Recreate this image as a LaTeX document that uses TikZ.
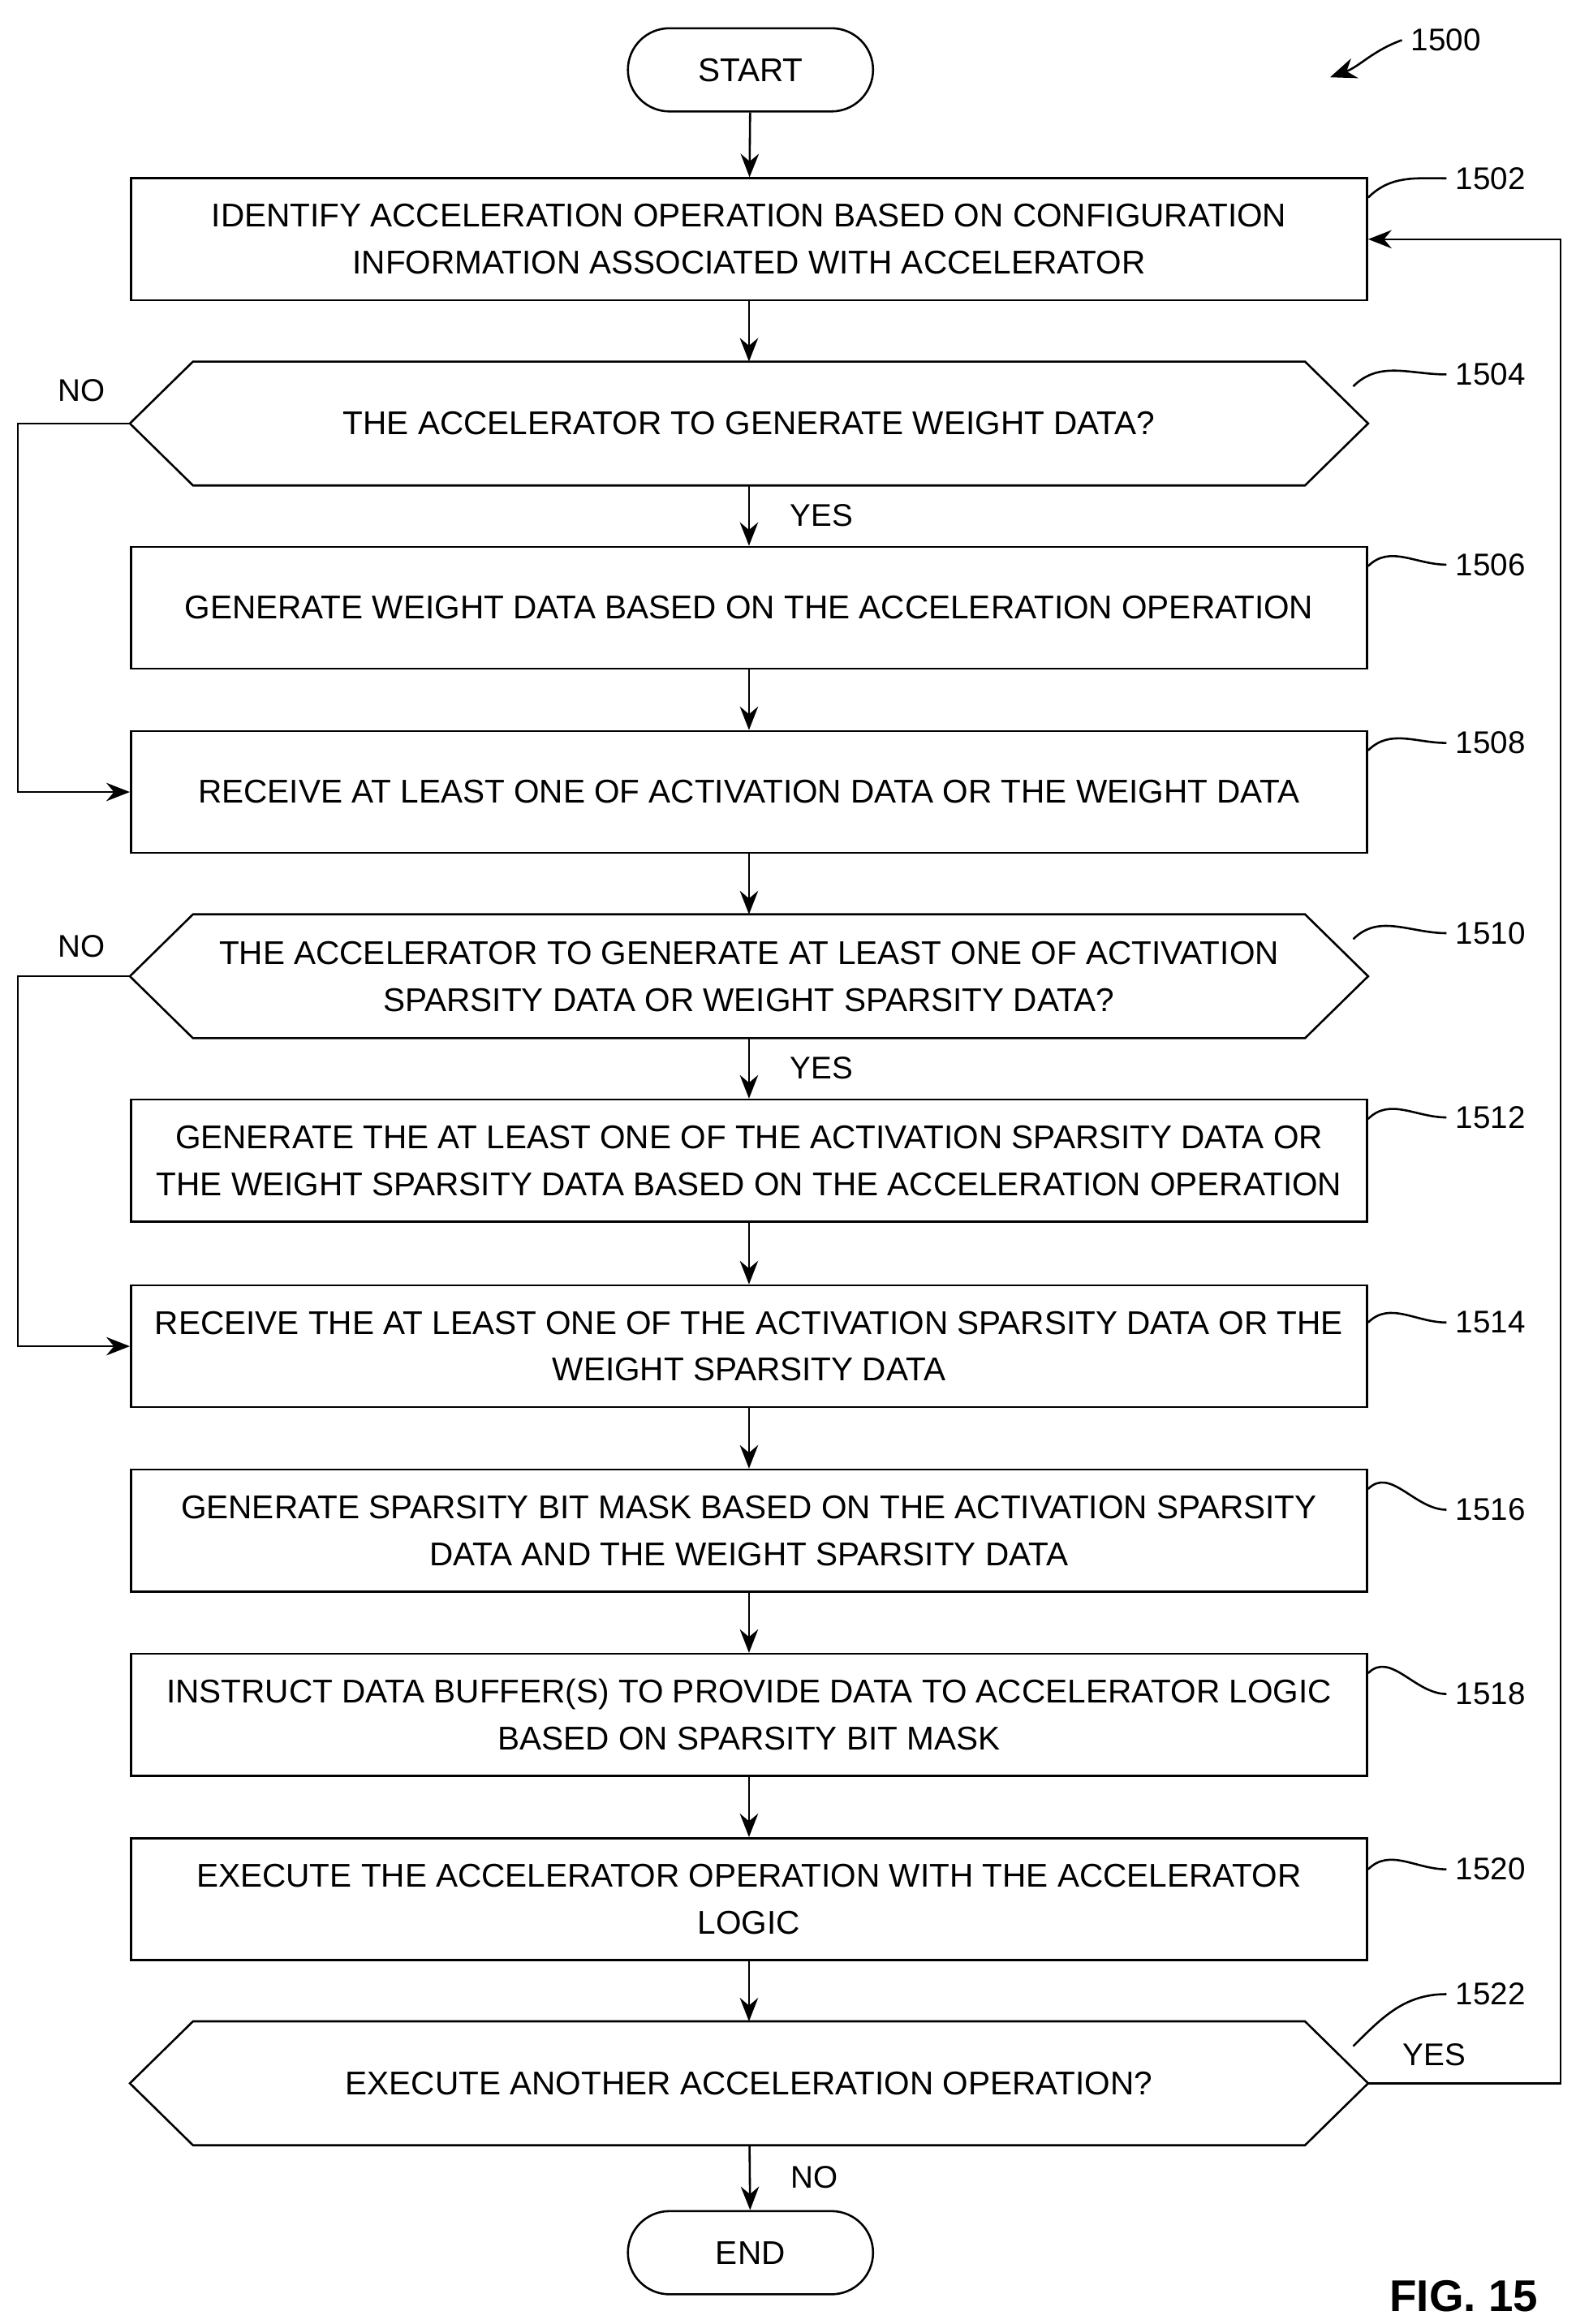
\documentclass[tikz,border=0pt]{standalone}
\usepackage{fontspec}
\setmainfont{Liberation Sans}
\usetikzlibrary{arrows.meta}

\tikzset{
  box/.style={draw,thick,minimum width=16.64cm,minimum height=1.64cm,align=center,inner sep=1pt,font=\fontsize{12.6}{18}\selectfont},
  dec/.style={box,draw=none},
  term/.style={draw,thick,rounded corners=0.56cm,minimum width=3.3cm,minimum height=1.12cm,font=\fontsize{12.6}{15}\selectfont},
  flow/.style={thick,-{Stealth[length=9pt,width=7pt]}},
  lead/.style={thick},
  lbl/.style={font=\fontsize{12}{14}\selectfont}
}
\newcommand{\hexline}[1]{\draw[thick] (#1.west) -- ([xshift=0.85cm]#1.north west) -- ([xshift=-0.85cm]#1.north east) -- (#1.east) -- ([xshift=-0.85cm]#1.south east) -- ([xshift=0.85cm]#1.south west) -- cycle;}

\begin{document}
\begin{tikzpicture}[x=0.02cm,y=-0.02cm]
\useasboundingbox (0,0) rectangle (1060,1564);

\path (505,47) node[term] (start) {START};
\path (504,161) node[box] (b1502) {IDENTIFY ACCELERATION OPERATION BASED ON CONFIGURATION\\INFORMATION ASSOCIATED WITH ACCELERATOR};
\path (504,285) node[dec] (d1504) {THE ACCELERATOR TO GENERATE WEIGHT DATA?};
\path (504,409) node[box] (b1506) {GENERATE WEIGHT DATA BASED ON THE ACCELERATION OPERATION};
\path (504,533) node[box] (b1508) {RECEIVE AT LEAST ONE OF ACTIVATION DATA OR THE WEIGHT DATA};
\path (504,657) node[dec] (d1510) {THE ACCELERATOR TO GENERATE AT LEAST ONE OF ACTIVATION\\SPARSITY DATA OR WEIGHT SPARSITY DATA?};
\path (504,781) node[box] (b1512) {GENERATE THE AT LEAST ONE OF THE ACTIVATION SPARSITY DATA OR\\THE WEIGHT SPARSITY DATA BASED ON THE ACCELERATION OPERATION};
\path (504,906) node[box] (b1514) {RECEIVE THE AT LEAST ONE OF THE ACTIVATION SPARSITY DATA OR THE\\WEIGHT SPARSITY DATA};
\path (504,1030) node[box] (b1516) {GENERATE SPARSITY BIT MASK BASED ON THE ACTIVATION SPARSITY\\DATA AND THE WEIGHT SPARSITY DATA};
\path (504,1154) node[box] (b1518) {INSTRUCT DATA BUFFER(S) TO PROVIDE DATA TO ACCELERATOR LOGIC\\BASED ON SPARSITY BIT MASK};
\path (504,1278) node[box] (b1520) {EXECUTE THE ACCELERATOR OPERATION WITH THE ACCELERATOR\\LOGIC};
\path (504,1402) node[dec] (d1522) {EXECUTE ANOTHER ACCELERATION OPERATION?};
\path (505,1516) node[term] (end) {END};
\hexline{d1504}
\hexline{d1510}
\hexline{d1522}

% main flow
\draw[flow] (start) -- (b1502);
\draw[flow] (b1502) -- (d1504);
\draw[flow] (d1504) -- node[lbl,right=12pt,pos=0.5] {YES} (b1506);
\draw[flow] (b1506) -- (b1508);
\draw[flow] (b1508) -- (d1510);
\draw[flow] (d1510) -- node[lbl,right=12pt,pos=0.5] {YES} (b1512);
\draw[flow] (b1512) -- (b1514);
\draw[flow] (b1514) -- (b1516);
\draw[flow] (b1516) -- (b1518);
\draw[flow] (b1518) -- (b1520);
\draw[flow] (b1520) -- (d1522);
\draw[flow] (d1522) -- node[lbl,right=12pt,pos=0.5] {NO} (end);

% branches
\coordinate (n1) at (12,285);
\coordinate (n2) at (12,657);
\coordinate (y1) at (1050,1402);
\draw[flow] (d1504.west) -- (n1) |- (b1508.west);
\path (55,263) node[lbl] (no1) {NO};
\draw[flow] (d1510.west) -- (n2) |- (b1514.west);
\path (55,637) node[lbl] (no2) {NO};
\draw[flow] (d1522.east) -- (y1) |- (b1502.east);
\path (965,1383) node[lbl] (yes3) {YES};

% reference numerals
\path (973,27) node[lbl] (r1500) {1500};
\draw[-{Stealth[length=10pt,width=8pt]},thick] (r1500.west) to[out=200,in=20] (895,52);
\foreach \n/\t/\y in {b1502/1502/120, d1504/1504/252, b1506/1506/380, b1508/1508/500, d1510/1510/628, b1512/1512/752, b1514/1514/890, b1516/1516/1016, b1518/1518/1140, b1520/1520/1258, d1522/1522/1342}{
  \path (1003,\y) node[lbl] (r\n) {\t};
}
\foreach \n/\dx/\dy in {b1502/0/-28, d1504/-10/-25, b1506/0/-28, b1508/0/-28, d1510/-10/-25, b1512/0/-28, b1514/0/-16, b1516/0/-28, b1518/0/-28, b1520/0/-20, d1522/-10/-25}{
  \draw[lead] (\n.east) ++(\dx,\dy) to[out=45,in=180] (r\n.west);
}

\path (985,1545) node[font=\bfseries\fontsize{17}{20}\selectfont] (fig) {FIG. 15};
\end{tikzpicture}
\end{document}
